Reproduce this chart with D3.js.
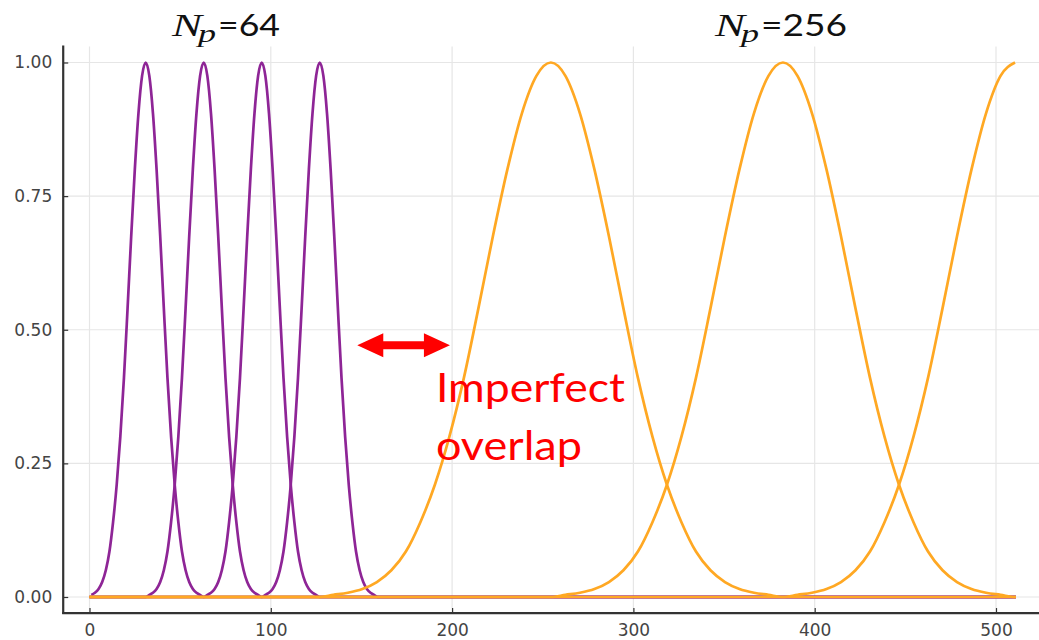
<!DOCTYPE html>
<html>
<head>
<meta charset="utf-8">
<script src="https://cdn.jsdelivr.net/npm/d3@7"></script>
<style>
  html, body { margin: 0; padding: 0; background: #fff; }
  svg { display: block; }
</style>
</head>
<body>
<svg id="chart" width="1039" height="640"></svg>
<script>
// Tick values and labels
const xTicks = [0, 100, 200, 300, 400, 500];
const yTicks = [0, 0.25, 0.5, 0.75, 1];
const yTickLabels = ["0.00", "0.25", "0.50", "0.75", "1.00"];

// Patch windows: centres and half-widths for the two patch sizes
const purpleCenters = [31, 63, 95, 127];
const purpleHalfWidth = 32;
const orangeCenters = [254.5, 382.5, 510.5];
const orangeHalfWidth = 128;

// Window profile (one side, symmetric): relative offset from centre -> weight
const profileU = [0, 0.0625, 0.125, 0.1875, 0.25, 0.3125, 0.375, 0.4375, 0.5,
                  0.5625, 0.625, 0.6875, 0.75, 0.8125, 0.875, 0.9375, 1];
const profileV = [1.00, 0.975, 0.905, 0.80, 0.675, 0.54, 0.41, 0.30, 0.21,
                  0.14, 0.085, 0.05, 0.028, 0.015, 0.008, 0.004, 0];

// Sample range of the signal
const signalStart = 0;
const signalEnd = 511;

const width = 1039, height = 640;
const svg = d3.select("#chart");

const x = d3.scaleLinear().domain([0, 500]).range([89.5, 996]);
const y = d3.scaleLinear().domain([0, 1]).range([597, 62.5]);

// plot limits (3% padding around the data)
const xLo = -14.5, yLo = -0.03, yHi = 1.03;
const axisX = x(xLo), axisY = y(yLo), topY = y(yHi);

// grid
const grid = svg.append("g").attr("stroke", "#e6e6e6").attr("stroke-width", 1.2);
grid.selectAll("line.v").data(xTicks).join("line")
  .attr("x1", d => x(d)).attr("x2", d => x(d))
  .attr("y1", topY).attr("y2", axisY);
grid.selectAll("line.h").data(yTicks).join("line")
  .attr("x1", axisX).attr("x2", width)
  .attr("y1", d => y(d)).attr("y2", d => y(d));

// build a full window curve over the signal range
function windowSeries(center, halfWidth) {
  const pts = [];
  const lo = center - halfWidth, hi = center + halfWidth;
  if (lo > signalStart) pts.push([signalStart, 0]);
  const us = [];
  for (let i = profileU.length - 1; i > 0; i--) us.push([-profileU[i], profileV[i]]);
  for (let i = 0; i < profileU.length; i++) us.push([profileU[i], profileV[i]]);
  us.forEach(([u, v]) => {
    const px = center + u * halfWidth;
    if (px >= signalStart && px <= signalEnd) pts.push([px, v]);
  });
  if (hi < signalEnd) pts.push([signalEnd, 0]);
  return pts;
}

const line = d3.line()
  .x(d => x(d[0]))
  .y(d => y(d[1]))
  .curve(d3.curveMonotoneX);

const curves = svg.append("g").attr("fill", "none")
  .attr("stroke-width", 2.7).attr("stroke-linejoin", "round");

curves.selectAll("path.purple")
  .data(purpleCenters.map(c => windowSeries(c, purpleHalfWidth)))
  .join("path").attr("class", "purple")
  .attr("stroke", "#8e2596")
  .attr("d", line);

curves.selectAll("path.orange")
  .data(orangeCenters.map(c => windowSeries(c, orangeHalfWidth)))
  .join("path").attr("class", "orange")
  .attr("stroke", "#ffa823")
  .attr("d", line);

// axes
const tickFont = "'DejaVu Sans', sans-serif";
const yAxis = d3.axisLeft(y).tickValues(yTicks)
  .tickFormat((d, i) => yTickLabels[i]).tickSize(-5).tickPadding(11);
const gy = svg.append("g").attr("transform", `translate(${axisX},0)`).call(yAxis);

const xAxis = d3.axisBottom(x).tickValues(xTicks)
  .tickFormat(d3.format("d")).tickSize(-5).tickPadding(11);
const gx = svg.append("g").attr("transform", `translate(0,${axisY})`).call(xAxis);

[gx, gy].forEach(g => {
  g.select(".domain").remove();
  g.selectAll(".tick line").attr("stroke", "#333").attr("stroke-width", 1.2);
  g.selectAll(".tick text").attr("fill", "#444")
    .style("font-family", tickFont).style("font-size", "17px");
});

svg.append("line").attr("x1", axisX).attr("x2", axisX)
  .attr("y1", topY - 1).attr("y2", axisY + 1)
  .attr("stroke", "#333").attr("stroke-width", 2.2);
svg.append("line").attr("x1", axisX - 1).attr("x2", width)
  .attr("y1", axisY).attr("y2", axisY)
  .attr("stroke", "#333").attr("stroke-width", 2.2);

// group titles: N_p = patch size
function npTitle(left, label, labelLen) {
  const g = svg.append("g").attr("fill", "#111");
  g.append("text").attr("x", left).attr("y", 36)
    .style("font-family", "'Liberation Serif', serif").style("font-style", "italic")
    .style("font-size", "32px").attr("textLength", 30).attr("lengthAdjust", "spacingAndGlyphs")
    .text("N");
  g.append("text").attr("x", left + 26).attr("y", 42)
    .style("font-family", "'Liberation Serif', serif").style("font-style", "italic")
    .style("font-size", "25px").attr("textLength", 18).attr("lengthAdjust", "spacingAndGlyphs")
    .text("p");
  g.append("text").attr("x", left + 46).attr("y", 36)
    .style("font-family", "Lato, sans-serif")
    .style("font-size", "30px").attr("textLength", labelLen).attr("lengthAdjust", "spacingAndGlyphs")
    .text(label);
}
npTitle(172, "=64", 62);
npTitle(715, "=256", 86);

// annotation: double arrow and label
const arrowFrom = 147.7, arrowTo = 198.8, arrowAt = 0.471;
const ax0 = x(arrowFrom), ax1 = x(arrowTo), ay = y(arrowAt);
const headL = 26, headH = 12, shaftH = 4;
svg.append("path")
  .attr("fill", "#ff0000")
  .attr("d", [
    [ax0, ay], [ax0 + headL, ay - headH], [ax0 + headL, ay - shaftH],
    [ax1 - headL, ay - shaftH], [ax1 - headL, ay - headH], [ax1, ay],
    [ax1 - headL, ay + headH], [ax1 - headL, ay + shaftH],
    [ax0 + headL, ay + shaftH], [ax0 + headL, ay + headH]
  ].map((p, i) => (i ? "L" : "M") + p[0] + "," + p[1]).join("") + "Z");

const note = svg.append("g").attr("fill", "#ff0000")
  .style("font-family", "Lato, 'Open Sans', sans-serif").style("font-size", "41px");
note.append("text").attr("x", x(191.1)).attr("y", y(0.365))
  .attr("textLength", 189).attr("lengthAdjust", "spacingAndGlyphs").text("Imperfect");
note.append("text").attr("x", x(191.1)).attr("y", y(0.256))
  .attr("textLength", 146).attr("lengthAdjust", "spacingAndGlyphs").text("overlap");
</script>
</body>
</html>
